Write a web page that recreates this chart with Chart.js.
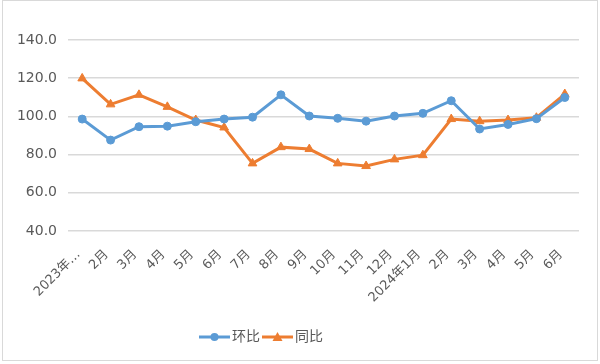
<!DOCTYPE html>
<html>
<head>
<meta charset="utf-8">
<script src="https://cdn.jsdelivr.net/npm/chart.js@4"></script>
<style>
  html, body { margin: 0; padding: 0; background: #fff; }
  #wrap { width: 600px; height: 364px; }
</style>
</head>
<body>
<div id="wrap"><canvas id="chart" width="600" height="364"></canvas></div>
<script>
// 横軸ラベル（元図では先頭が省略表示）
const months = ['2023年…', '2月', '3月', '4月', '5月', '6月', '7月', '8月', '9月', '10月', '11月', '12月',
                '2024年1月', '2月', '3月', '4月', '5月', '6月'];
// 环比
const huanbi = [98.6, 87.6, 94.6, 94.9, 97.2, 98.6, 99.6, 111.3, 100.2, 99.0, 97.5, 100.2,
                101.6, 108.2, 93.4, 95.8, 98.8, 109.9];
// 同比
const tongbi = [119.9, 106.3, 111.3, 105.0, 98.1, 94.2, 75.4, 83.9, 82.9, 75.4, 74.0, 77.5,
                79.7, 98.6, 97.5, 98.1, 99.3, 111.7];
// 縦軸の目盛
const yTicks = [40, 60, 80, 100, 120, 140];

const textColor = '#595959';
const gridColor = '#d9d9d9';
const fontFamily = '"DejaVu Sans", "Noto Sans CJK SC", sans-serif';

// 凡例（線＋マーカー）を自前で描く
const lineLegend = {
    id: 'lineLegend',
    afterDraw(chart) {
        const ctx = chart.ctx;
        // 外枠
        ctx.save();
        ctx.strokeStyle = gridColor;
        ctx.lineWidth = 1;
        ctx.strokeRect(2.5, 0.5, 595, 360);
        ctx.restore();

        const items = chart.data.datasets;
        let x = 199;
        const y = 337;
        ctx.save();
        ctx.font = '14px ' + fontFamily;
        ctx.textBaseline = 'middle';
        items.forEach(ds => {
            ctx.strokeStyle = ds.borderColor;
            ctx.fillStyle = ds.borderColor;
            ctx.lineWidth = 3;
            ctx.beginPath();
            ctx.moveTo(x, y);
            ctx.lineTo(x + 31, y);
            ctx.stroke();
            const cx = x + 15.5;
            if (ds.pointStyle === 'triangle') {
                ctx.beginPath();
                ctx.moveTo(cx, y - 5);
                ctx.lineTo(cx + 5, y + 4);
                ctx.lineTo(cx - 5, y + 4);
                ctx.closePath();
                ctx.fill();
            } else {
                ctx.beginPath();
                ctx.arc(cx, y, 4, 0, Math.PI * 2);
                ctx.fill();
            }
            ctx.fillStyle = textColor;
            ctx.fillText(ds.label, x + 33, y);
            x += 33 + ctx.measureText(ds.label).width + 2;
        });
        ctx.restore();
    }
};

new Chart(document.getElementById('chart'), {
    type: 'line',
    data: {
        labels: months,
        datasets: [
            {
                label: '环比',
                data: huanbi,
                borderColor: '#5B9BD5',
                backgroundColor: '#5B9BD5',
                pointBackgroundColor: '#5B9BD5',
                pointBorderColor: '#5B9BD5',
                borderWidth: 3,
                pointStyle: 'circle',
                pointRadius: 4,
                pointBorderWidth: 1,
                tension: 0,
            },
            {
                label: '同比',
                data: tongbi,
                borderColor: '#ED7D31',
                backgroundColor: '#ED7D31',
                pointBackgroundColor: '#ED7D31',
                pointBorderColor: '#ED7D31',
                borderWidth: 3,
                pointStyle: 'triangle',
                pointRadius: 5,
                pointBorderWidth: 1,
                tension: 0,
            }
        ]
    },
    options: {
        responsive: false,
        animation: false,
        layout: {
            padding: { top: 40, right: 21, bottom: 0, left: 0 }
        },
        scales: {
            x: {
                offset: true,
                grid: { display: false },
                border: { display: false },
                ticks: {
                    color: textColor,
                    font: { size: 13, family: fontFamily },
                    minRotation: 45,
                    maxRotation: 45,
                    autoSkip: false,
                    padding: 8,
                    labelOffset: -4,
                },
                afterFit(scale) { scale.height = 133; }
            },
            y: {
                min: 40,
                max: 140,
                afterBuildTicks(scale) {
                    scale.ticks = yTicks.map(v => ({ value: v }));
                },
                grid: { color: gridColor, lineWidth: 1.5, drawTicks: false },
                border: { display: false },
                ticks: {
                    color: textColor,
                    font: { size: 14, family: fontFamily },
                    padding: 11,
                    callback: v => v.toFixed(1),
                },
                afterFit(scale) { scale.width = 68; }
            }
        },
        plugins: {
            legend: { display: false },
            tooltip: { enabled: false }
        }
    },
    plugins: [lineLegend]
});
</script>
</body>
</html>
